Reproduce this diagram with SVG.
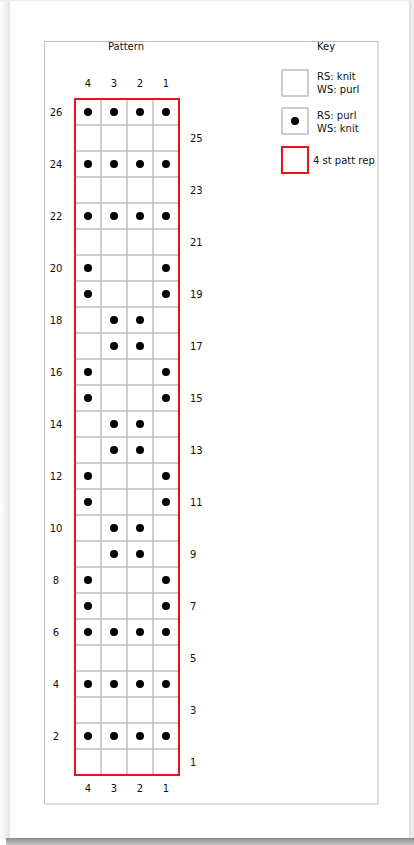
<svg xmlns="http://www.w3.org/2000/svg" width="414" height="845" viewBox="0 0 414 845">
<defs>
<linearGradient id="shL" x1="0" y1="0" x2="1" y2="0"><stop offset="0" stop-color="#ffffff"/><stop offset="1" stop-color="#e4e4e4"/></linearGradient>
<linearGradient id="shB" x1="0" y1="0" x2="0" y2="1"><stop offset="0" stop-color="#8a8a8a"/><stop offset="1" stop-color="#c8c8c8"/></linearGradient>
<linearGradient id="shR" x1="0" y1="0" x2="1" y2="0"><stop offset="0" stop-color="#dcdcdc"/><stop offset="1" stop-color="#f4f4f4"/></linearGradient>
<style>
text{font-family:"DejaVu Sans","Liberation Sans",sans-serif;font-size:10px;fill:#111}
.c{text-anchor:middle}
.cell{fill:#fff;stroke:#bdbdbd;stroke-width:1.5}
.d{fill:#000}
.rep{fill:none;stroke:#e8141b;stroke-width:2}
</style>
</defs>
<rect x="0" y="0" width="414" height="845" fill="#ffffff"/>
<rect x="0" y="0" width="10" height="840" fill="url(#shL)"/>
<rect x="409" y="0" width="5" height="840" fill="url(#shR)"/>
<rect x="0" y="0" width="414" height="1.5" fill="#ececec"/>
<rect x="6" y="838" width="408" height="7" fill="url(#shB)"/>
<rect x="10" y="1.5" width="399" height="836.5" fill="#ffffff"/>
<rect x="44.5" y="41.5" width="333.5" height="762.5" fill="none" stroke="#bdbdbd" stroke-width="1"/>
<text class="c" x="126" y="50">Pattern</text>
<text class="c" x="326" y="50">Key</text>
<g id="colnums-top">
<text class="c" x="88" y="87">4</text><text class="c" x="114" y="87">3</text><text class="c" x="140" y="87">2</text><text class="c" x="166" y="87">1</text>
</g>
<g id="colnums-bottom">
<text class="c" x="88" y="792">4</text><text class="c" x="114" y="792">3</text><text class="c" x="140" y="792">2</text><text class="c" x="166" y="792">1</text>
</g>
<g id="grid">
<path d="M75 99V775M101 99V775M127 99V775M153 99V775M179 99V775M75 99H179M75 125H179M75 151H179M75 177H179M75 203H179M75 229H179M75 255H179M75 281H179M75 307H179M75 333H179M75 359H179M75 385H179M75 411H179M75 437H179M75 463H179M75 489H179M75 515H179M75 541H179M75 567H179M75 593H179M75 619H179M75 645H179M75 671H179M75 697H179M75 723H179M75 749H179M75 775H179" fill="none" stroke="#bdbdbd" stroke-width="1.5"/>
</g>
<g id="dots" class="d">
<circle cx="88" cy="112" r="4"/><circle cx="114" cy="112" r="4"/><circle cx="140" cy="112" r="4"/><circle cx="166" cy="112" r="4"/>
<circle cx="88" cy="164" r="4"/><circle cx="114" cy="164" r="4"/><circle cx="140" cy="164" r="4"/><circle cx="166" cy="164" r="4"/>
<circle cx="88" cy="216" r="4"/><circle cx="114" cy="216" r="4"/><circle cx="140" cy="216" r="4"/><circle cx="166" cy="216" r="4"/>
<circle cx="88" cy="268" r="4"/><circle cx="166" cy="268" r="4"/>
<circle cx="88" cy="294" r="4"/><circle cx="166" cy="294" r="4"/>
<circle cx="114" cy="320" r="4"/><circle cx="140" cy="320" r="4"/>
<circle cx="114" cy="346" r="4"/><circle cx="140" cy="346" r="4"/>
<circle cx="88" cy="372" r="4"/><circle cx="166" cy="372" r="4"/>
<circle cx="88" cy="398" r="4"/><circle cx="166" cy="398" r="4"/>
<circle cx="114" cy="424" r="4"/><circle cx="140" cy="424" r="4"/>
<circle cx="114" cy="450" r="4"/><circle cx="140" cy="450" r="4"/>
<circle cx="88" cy="476" r="4"/><circle cx="166" cy="476" r="4"/>
<circle cx="88" cy="502" r="4"/><circle cx="166" cy="502" r="4"/>
<circle cx="114" cy="528" r="4"/><circle cx="140" cy="528" r="4"/>
<circle cx="114" cy="554" r="4"/><circle cx="140" cy="554" r="4"/>
<circle cx="88" cy="580" r="4"/><circle cx="166" cy="580" r="4"/>
<circle cx="88" cy="606" r="4"/><circle cx="166" cy="606" r="4"/>
<circle cx="88" cy="632" r="4"/><circle cx="114" cy="632" r="4"/><circle cx="140" cy="632" r="4"/><circle cx="166" cy="632" r="4"/>
<circle cx="88" cy="684" r="4"/><circle cx="114" cy="684" r="4"/><circle cx="140" cy="684" r="4"/><circle cx="166" cy="684" r="4"/>
<circle cx="88" cy="736" r="4"/><circle cx="114" cy="736" r="4"/><circle cx="140" cy="736" r="4"/><circle cx="166" cy="736" r="4"/>
</g>
<rect id="repeat" class="rep" x="75" y="99" width="104" height="676"/>
<g id="rownums-even" class="c">
<text x="56" y="116">26</text><text x="56" y="168">24</text><text x="56" y="220">22</text><text x="56" y="272">20</text><text x="56" y="324">18</text><text x="56" y="376">16</text><text x="56" y="428">14</text><text x="56" y="480">12</text><text x="56" y="532">10</text><text x="56" y="584">8</text><text x="56" y="636">6</text><text x="56" y="688">4</text><text x="56" y="740">2</text>
</g>
<g id="rownums-odd">
<text x="190" y="142">25</text><text x="190" y="194">23</text><text x="190" y="246">21</text><text x="190" y="298">19</text><text x="190" y="350">17</text><text x="190" y="402">15</text><text x="190" y="454">13</text><text x="190" y="506">11</text><text x="190" y="558">9</text><text x="190" y="610">7</text><text x="190" y="662">5</text><text x="190" y="714">3</text><text x="190" y="766">1</text>
</g>
<g id="key-knit">
<rect class="cell" x="282" y="70" width="26" height="26"/>
<text x="317" y="80">RS: knit</text><text x="317" y="93">WS: purl</text>
</g>
<g id="key-purl">
<rect class="cell" x="282" y="108" width="26" height="26"/>
<circle class="d" cx="295" cy="121" r="4"/>
<text x="317" y="119">RS: purl</text><text x="317" y="132">WS: knit</text>
</g>
<g id="key-rep">
<rect class="rep" x="282" y="147" width="26" height="26"/>
<text x="313" y="164">4 st patt rep</text>
</g>
</svg>
